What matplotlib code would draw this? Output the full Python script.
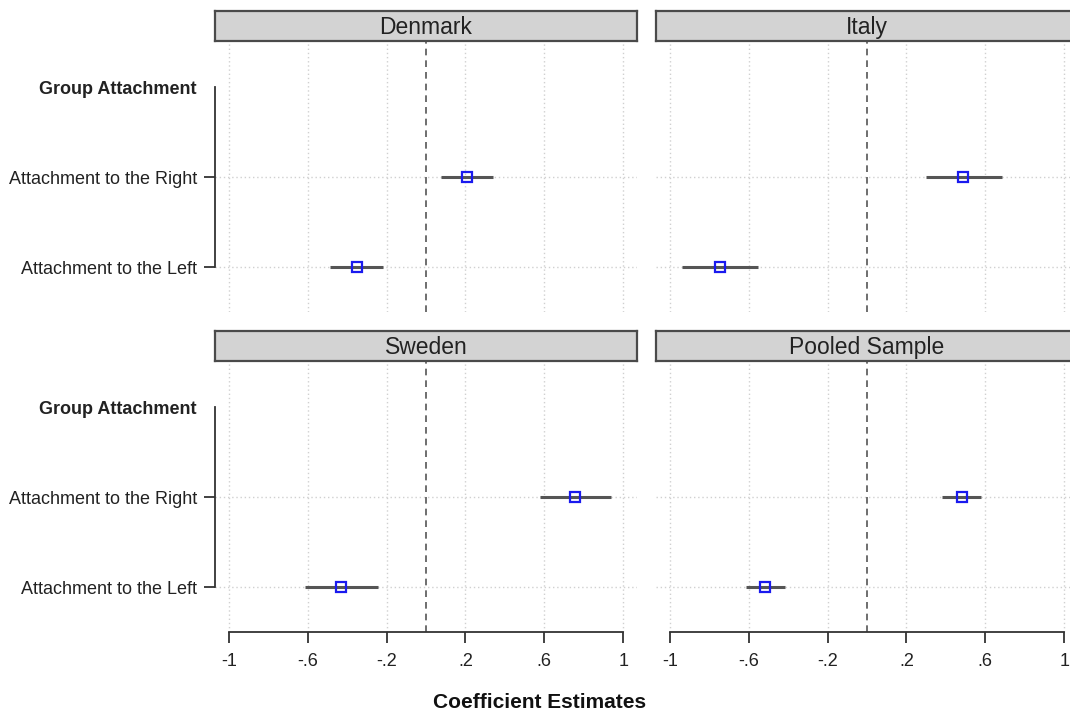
import numpy as np
import matplotlib
matplotlib.use("Agg")
from matplotlib import pyplot as plt

plt.rcParams['font.family'] = ['Liberation Sans', 'DejaVu Sans']

panels = ['Denmark', 'Italy', 'Sweden', 'Pooled Sample']
row_labels = ['Attachment to the Left', 'Attachment to the Right', 'Group Attachment']
xticks = [-1, -0.6, -0.2, 0.2, 0.6, 1]
xtick_labels = ['-1', '-.6', '-.2', '.2', '.6', '1']

# estimates and 95% CI: [left, right]
est = {
    'Denmark': [-0.35, 0.208],
    'Italy': [-0.746, 0.487],
    'Sweden': [-0.431, 0.756],
    'Pooled Sample': [-0.518, 0.482],
}
lo = {
    'Denmark': [-0.487, 0.076],
    'Italy': [-0.94, 0.30],
    'Sweden': [-0.614, 0.579],
    'Pooled Sample': [-0.614, 0.38],
}
hi = {
    'Denmark': [-0.218, 0.34],
    'Italy': [-0.553, 0.685],
    'Sweden': [-0.244, 0.939],
    'Pooled Sample': [-0.416, 0.579],
}

W, H = 1070, 710
fig = plt.figure(figsize=(W / 100, H / 100), dpi=100)

lefts = [215, 656]
tops = [42, 362]
pw, ph = 422, 270
strip_h = 30

for i, name in enumerate(panels):
    r, c = divmod(i, 2)
    x0 = lefts[c]
    y0 = tops[r]
    ax = fig.add_axes([x0 / W, (H - y0 - ph) / H, pw / W, ph / H])
    sax = fig.add_axes([x0 / W, (H - y0 + 1) / H, pw / W, strip_h / H])
    sax.set_facecolor('#d3d3d3')
    sax.set_xticks([])
    sax.set_yticks([])
    for s in sax.spines.values():
        s.set_color('#4a4a4a')
        s.set_linewidth(1.6)
    sax.text(0.5, 0.45, name, ha='center', va='center', fontsize=16.5,
             color='#222222', transform=sax.transAxes)

    ax.set_xlim(-1.07, 1.07)
    ax.set_ylim(0.5, 3.5)
    for xv in xticks:
        ax.axvline(xv, color='#d0d0d0', ls=(0, (1, 2)), lw=1, zorder=0)
    for yv in [1, 2]:
        ax.axhline(yv, color='#d0d0d0', ls=(0, (1, 2)), lw=1, zorder=0)
    ax.axvline(0, color='#555555', ls=(0, (4, 3)), lw=1.2, zorder=1)

    ys = np.array([1, 2])
    ax.hlines(ys, lo[name], hi[name], color='#555555', lw=2.2, zorder=2)
    ax.plot(est[name], ys, 's', ms=7, mfc='none', mec='#1a1aee', mew=1.6, zorder=3)

    for s in ['top', 'right']:
        ax.spines[s].set_visible(False)

    if r == 1:
        ax.spines['bottom'].set_bounds(-1, 1)
        ax.spines['bottom'].set_color('#333333')
        ax.spines['bottom'].set_linewidth(1.3)
        ax.set_xticks(xticks)
        ax.set_xticklabels(xtick_labels, fontsize=13, color='#222222')
        ax.tick_params(axis='x', length=8, width=1.3, color='#333333', pad=7)
    else:
        ax.spines['bottom'].set_visible(False)
        ax.set_xticks([])

    if c == 0:
        ax.spines['left'].set_bounds(1, 3)
        ax.spines['left'].set_color('#333333')
        ax.spines['left'].set_linewidth(1.3)
        ax.set_yticks([1, 2, 3])
        ax.set_yticklabels(row_labels, fontsize=13, color='#222222')
        ax.tick_params(axis='y', length=8, width=1.3, color='#333333', pad=5)
        ax.get_yticklabels()[2].set_fontweight('bold')
        ax.yaxis.get_major_ticks()[2].tick1line.set_visible(False)
    else:
        ax.spines['left'].set_visible(False)
        ax.set_yticks([])

fig.text(540 / W, 1 - 702 / H, 'Coefficient Estimates', ha='center', va='center',
         fontsize=15, fontweight='bold', color='#111111')

fig.savefig('out.png', dpi=100)
